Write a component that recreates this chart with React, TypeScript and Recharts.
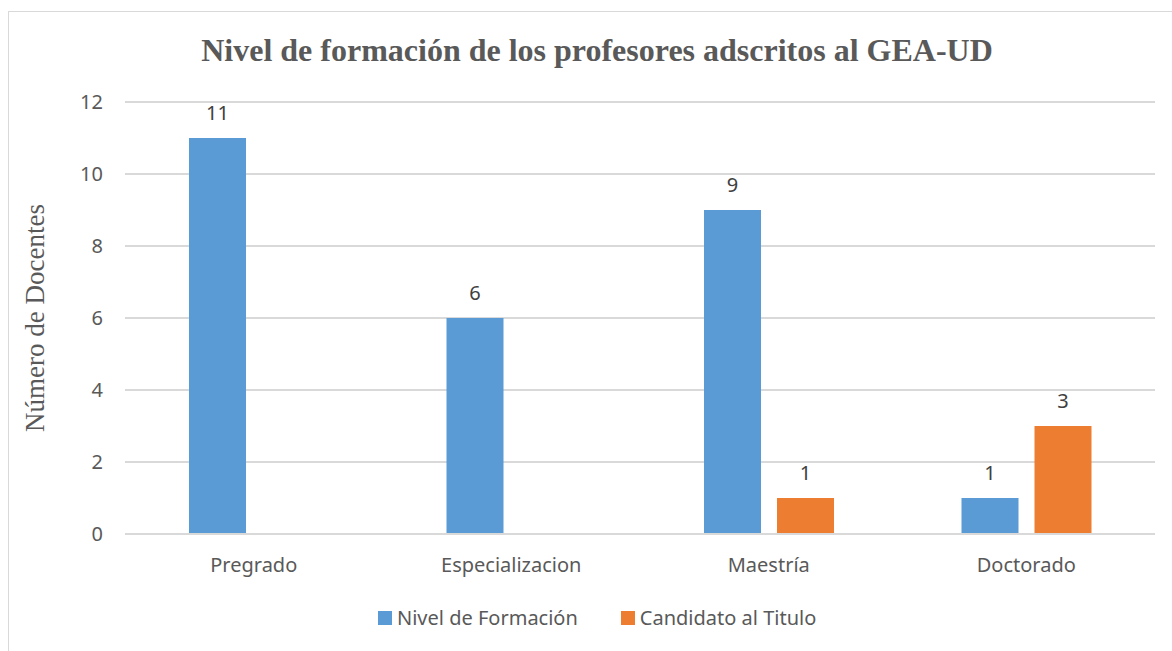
import React from "react";
import {
  BarChart,
  Bar,
  CartesianGrid,
  XAxis,
  YAxis,
  LabelList,
} from "recharts";

const categories = ["Pregrado", "Especializacion", "Maestría", "Doctorado"];
const nivelFormacion = [11, 6, 9, 1];
const candidatoTitulo = [null, null, 1, 3];
const yTicks = [0, 2, 4, 6, 8, 10, 12];

const seriesNames = ["Nivel de Formación", "Candidato al Titulo"];
const colors = ["#5b9bd5", "#ed7d31"];

const data = categories.map((name, i) => ({
  name,
  nivel: nivelFormacion[i],
  candidato: candidatoTitulo[i],
}));

const sans = "'Noto Sans', sans-serif";
const serif = "'Liberation Serif', 'Times New Roman', serif";

const App: React.FC = () => {
  return (
    <div
      style={{
        position: "absolute",
        left: 0,
        top: 0,
        width: 1172,
        height: 651,
        overflow: "hidden",
        background: "#fff",
      }}
    >
      {/* chart border, runs off the right and bottom */}
      <div
        style={{
          position: "absolute",
          left: 8,
          top: 11,
          width: 1300,
          height: 800,
          border: "1px solid #d9d9d9",
        }}
      />
      <div
        style={{
          position: "absolute",
          left: 0,
          top: 32,
          width: 1194,
          textAlign: "center",
          fontFamily: serif,
          fontWeight: "bold",
          fontSize: 32,
          color: "#595959",
        }}
      >
        Nivel de formación de los profesores adscritos al GEA-UD
      </div>
      <div
        style={{
          position: "absolute",
          left: 35,
          top: 318,
          transform: "translate(-50%, -50%) rotate(-90deg)",
          whiteSpace: "nowrap",
          fontFamily: serif,
          fontSize: 27,
          color: "#595959",
        }}
      >
        Número de Docentes
      </div>
      <BarChart
        width={1172}
        height={651}
        data={data}
        margin={{ top: 102, right: 17, bottom: 87, left: 0 }}
        barGap={16}
        barSize={57}
        style={{ position: "absolute", left: 0, top: 0 }}
      >
        <CartesianGrid vertical={false} stroke="#d9d9d9" strokeWidth={2} />
        <XAxis
          dataKey="name"
          height={30}
          axisLine={{ stroke: "#d9d9d9", strokeWidth: 2 }}
          tickLine={false}
          tickSize={0}
          tickMargin={24}
          tick={{ fill: "#595959", fontSize: 20, fontFamily: sans }}
        />
        <YAxis
          width={125}
          domain={[0, 12]}
          ticks={yTicks}
          axisLine={false}
          tickLine={false}
          tickSize={0}
          tickMargin={22}
          tick={{ fill: "#595959", fontSize: 20, fontFamily: sans }}
        />
        <Bar dataKey="nivel" name={seriesNames[0]} fill={colors[0]} isAnimationActive={false}>
          <LabelList
            dataKey="nivel"
            position="top"
            offset={18}
            fill="#404040"
            fontSize={20}
            fontFamily={sans}
          />
        </Bar>
        <Bar dataKey="candidato" name={seriesNames[1]} fill={colors[1]} isAnimationActive={false}>
          <LabelList
            dataKey="candidato"
            position="top"
            offset={18}
            fill="#404040"
            fontSize={20}
            fontFamily={sans}
          />
        </Bar>
      </BarChart>
      <div
        style={{
          position: "absolute",
          left: 378,
          top: 604,
          display: "flex",
          alignItems: "center",
          fontFamily: sans,
          fontSize: 20,
          color: "#595959",
        }}
      >
        {seriesNames.map((s, i) => (
          <div key={s} style={{ display: "flex", alignItems: "center", marginRight: i === 0 ? 43 : 0 }}>
            <span style={{ width: 14, height: 14, background: colors[i], display: "inline-block", marginRight: 5 }} />
            <span>{s}</span>
          </div>
        ))}
      </div>
    </div>
  );
};

export default App;
